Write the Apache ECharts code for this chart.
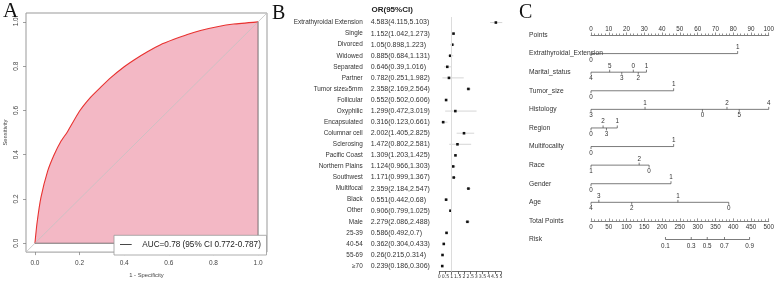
<!DOCTYPE html>
<html><head><meta charset="utf-8">
<script src="https://cdn.jsdelivr.net/npm/echarts@6/dist/echarts.min.js"></script>
<style>html,body{margin:0;padding:0;background:#fff}#c{width:777px;height:283px}</style>
</head><body><div id="c"></div>
<script>
// ---------- Panel A: ROC ----------
const rocFpr = [0, 0.009, 0.027, 0.057, 0.086, 0.116, 0.146, 0.198, 0.25, 0.295, 0.34, 0.40, 0.444, 0.504, 0.563, 0.623, 0.683, 0.742, 0.817, 0.891, 1];
const rocTpr = [0, 0.088, 0.207, 0.326, 0.40, 0.46, 0.504, 0.594, 0.66, 0.705, 0.748, 0.797, 0.828, 0.865, 0.897, 0.921, 0.943, 0.961, 0.978, 0.99, 1];
const rocTicks = [0, 0.2, 0.4, 0.6, 0.8, 1.0];
const aucText = 'AUC=0.78 (95% CI 0.772-0.787)';

// ---------- Panel B: forest ----------
const orLabels = ['Extrathyroidal Extension','Single','Divorced','Widowed','Separated','Partner','Tumor size≥5mm','Follicular','Oxyphilic','Encapsulated','Columnar cell','Sclerosing','Pacific Coast','Northern Plains','Southwest','Multifocal','Black','Other','Male','25-39','40-54','55-69','≥70'];
const orValues = [4.583,1.152,1.05,0.885,0.646,0.782,2.358,0.552,1.299,0.316,2.002,1.472,1.309,1.124,1.171,2.359,0.551,0.906,2.279,0.586,0.362,0.26,0.239];
const orLower  = [4.115,1.042,0.898,0.684,0.39,0.251,2.169,0.502,0.472,0.123,1.405,0.802,1.203,0.966,0.999,2.184,0.442,0.799,2.086,0.492,0.304,0.215,0.186];
const orUpper  = [5.103,1.273,1.223,1.131,1.016,1.982,2.564,0.606,3.019,0.661,2.825,2.581,1.425,1.303,1.367,2.547,0.68,1.025,2.488,0.7,0.433,0.314,0.306];
const orTicks = [0,0.5,1,1.5,2,2.5,3,3.5,4,4.5,5];

// ---------- Panel C: nomogram ----------
const nomoVars = ['Points','Extrathyroidal_Extension','Marital_status','Tumor_size','Histology','Region','Multifocality','Race','Gender','Age','Total Points','Risk'];
const extPts = [0, 82.5],                         extLab = ['0','1'];
const maritalPts = [0, 10.5, 17.3, 23.8, 26.6, 31.2], maritalLab = ['4','5','3','0','2','1'];
const tumorPts = [0, 46.5],                       tumorLab = ['0','1'];
const histPts = [0, 30.4, 62.7, 76.5, 83.4, 100], histLab = ['3','1','0','2','5','4'];
const regionPts = [0, 6.8, 8.7, 14.8],            regionLab = ['0','2','3','1'];
const multiPts = [0, 46.5],                       multiLab = ['0','1'];
const racePts = [0, 27.1, 32.7],                  raceLab = ['1','2','0'];
const genderPts = [0, 45],                        genderLab = ['0','1'];
const agePts = [0, 4.4, 22.9, 48.9, 77.5],        ageLab = ['4','3','2','1','0'];
const riskTotal = [209.5, 282, 327, 375.5, 446],  riskLab = ['0.1','0.3','0.5','0.7','0.9'];
const pointsMax = 100, totalMax = 500;

// ---------- build ----------
const FONT = '"Liberation Sans", Arial, sans-serif';
const NARROW = '"Liberation Sans Narrow", "DejaVu Sans Condensed", sans-serif';
const SERIF = '"Liberation Serif", "DejaVu Serif", serif';
const TXT = '#333';

const rocData = rocFpr.map((x, i) => [x, rocTpr[i]]);
const orText = orValues.map((v, i) => `${v}(${orLower[i]},${orUpper[i]})`);

const nomoRows = [
  [1, extPts, extLab], [2, maritalPts, maritalLab], [3, tumorPts, tumorLab],
  [4, histPts, histLab], [5, regionPts, regionLab], [6, multiPts, multiLab],
  [7, racePts, raceLab], [8, genderPts, genderLab], [9, agePts, ageLab]
];
const nomoTicks = [];
nomoRows.forEach(([row, pts, lab]) => pts.forEach((p, k) => nomoTicks.push({x: p, row, lab: lab[k], tickDir: k % 2 === 0 ? -1 : 1, labDir: k % 2 === 0 ? -1 : 1})));
const nomoLines = nomoRows.map(([row, pts]) => [Math.min(...pts), Math.max(...pts), row]);
const riskTicks = riskTotal.map((t, k) => ({x: t, row: 11, lab: riskLab[k], tickDir: 1, labDir: -1}));

function txtStyle(text, size, align, va, family, weight) {
  return {text, fontSize: size, fontFamily: family || FONT, fill: TXT, fontWeight: weight || 'normal',
    align, textAlign: align, verticalAlign: va, textVerticalAlign: va};
}

function tickRender(items) {
  return function (params, api) {
    const it = items[params.dataIndex];
    const p = api.coord([it.x, it.row]);
    return {type: 'group', children: [
      {type: 'line', shape: {x1: p[0], y1: p[1], x2: p[0], y2: p[1] - it.tickDir * 2.5}, style: {stroke: '#444', lineWidth: 0.7}},
      {type: 'text', x: p[0], y: p[1] - it.labDir * 6.3, style: txtStyle(it.lab, 6.3, 'center', 'middle')}
    ]};
  };
}
function segRender(params, api) {
  const a = api.coord([api.value(0), api.value(2)]);
  const b = api.coord([api.value(1), api.value(2)]);
  return {type: 'line', shape: {x1: a[0], y1: a[1], x2: b[0], y2: b[1]}, style: {stroke: '#444', lineWidth: 0.7}};
}

const option = {
  animation: false,
  backgroundColor: '#fff',
  grid: [
    {left: 26, top: 13, width: 241, height: 242, show: true, borderColor: '#999', borderWidth: 1, backgroundColor: 'transparent'},
    {left: 439.3, top: 17, width: 61.7, height: 254.6},
    {left: 591, top: 35, width: 180.7, height: 204.5}
  ],
  xAxis: [
    {gridIndex: 0, type: 'value', min: -0.04, max: 1.04, splitLine: {show: false},
      axisLine: {show: false, onZero: false},
      axisTick: {show: true, length: 3, lineStyle: {color: '#777', width: 0.7}, customValues: rocTicks},
      axisLabel: {customValues: rocTicks, formatter: v => v.toFixed(1), fontSize: 6.5, color: '#444', fontFamily: FONT, margin: 8},
      name: '1 - Specificity', nameLocation: 'middle', nameGap: 19.5, nameTextStyle: {fontSize: 5.8, color: '#444', fontFamily: FONT}},
    {gridIndex: 1, type: 'value', min: 0, max: 5, interval: 0.5, splitLine: {show: false},
      axisLine: {show: true, onZero: false, lineStyle: {color: '#333', width: 0.7}},
      axisTick: {show: true, length: 2.5, lineStyle: {color: '#333', width: 0.7}},
      axisLabel: {fontSize: 5.2, color: TXT, fontFamily: NARROW, margin: 3, interval: 0, hideOverlap: false,
        customValues: orTicks, formatter: v => String(v)}},
    {gridIndex: 2, type: 'value', position: 'top', min: 0, max: pointsMax, interval: 10, splitLine: {show: false},
      axisLine: {show: true, onZero: false, lineStyle: {color: '#444', width: 0.7}},
      axisTick: {show: true, length: 2.5, lineStyle: {color: '#444', width: 0.6}},
      minorTick: {show: true, splitNumber: 5, length: 1.5, lineStyle: {color: '#444', width: 0.6}},
      axisLabel: {fontSize: 6.3, color: TXT, fontFamily: FONT, margin: 3}},
    {gridIndex: 2, type: 'value', position: 'bottom', offset: -18.6, min: 0, max: totalMax, interval: 50, splitLine: {show: false},
      axisLine: {show: true, onZero: false, lineStyle: {color: '#444', width: 0.7}},
      axisTick: {show: true, inside: true, length: 2.5, lineStyle: {color: '#444', width: 0.6}},
      minorTick: {show: true, splitNumber: 5, length: 1.5, lineStyle: {color: '#444', width: 0.6}},
      axisLabel: {fontSize: 6.3, color: TXT, fontFamily: FONT, margin: 3.5}}
  ],
  yAxis: [
    {gridIndex: 0, type: 'value', min: -0.04, max: 1.04, splitLine: {show: false},
      axisLine: {show: false, onZero: false},
      axisTick: {show: true, length: 3, lineStyle: {color: '#777', width: 0.7}, customValues: rocTicks},
      axisLabel: {customValues: rocTicks, formatter: v => v.toFixed(1), rotate: 90, fontSize: 6.5, color: '#444', fontFamily: FONT, margin: 6},
      name: 'Sensitivity', nameLocation: 'middle', nameGap: 18, nameTextStyle: {fontSize: 5.8, color: '#444', fontFamily: FONT}},
    {gridIndex: 1, type: 'category', inverse: true, data: orLabels,
      axisLine: {show: false, onZero: false}, axisTick: {show: false}, splitLine: {show: false},
      axisLabel: {interval: 0, fontSize: 6.4, color: TXT, fontFamily: FONT, margin: 76.6}},
    {gridIndex: 2, type: 'value', inverse: true, min: 0, max: 11, interval: 1,
      axisLine: {show: false, onZero: false}, axisTick: {show: false}, splitLine: {show: false},
      axisLabel: {formatter: v => nomoVars[v] || '', align: 'left', margin: 62, fontSize: 6.7, color: TXT, fontFamily: FONT}}
  ],
  series: [
    {type: 'line', xAxisIndex: 0, yAxisIndex: 0, data: rocData, showSymbol: false, smooth: 0.15, z: 2,
      lineStyle: {color: '#e8312f', width: 1.1}, areaStyle: {color: '#f3b8c5', opacity: 1}},
    {type: 'custom', xAxisIndex: 0, yAxisIndex: 0, clip: false, z: 10,
      data: [[0, 1]], encode: {x: 0, y: 1},
      renderItem: function (params, api) {
        const o = api.coord([0, 0]), r = api.coord([1, 0]), t = api.coord([1, 1]);
        const d0 = api.coord([-0.04, -0.04]), d1 = api.coord([1.04, 1.04]);
        return {type: 'group', children: [
          {type: 'line', shape: {x1: d0[0], y1: d0[1], x2: d1[0], y2: d1[1]}, style: {stroke: '#c3c3c3', lineWidth: 0.8}},
          {type: 'polyline', shape: {points: [o, r, t]}, style: {stroke: '#555', lineWidth: 0.8, fill: null}}
        ]};
      }},
    {type: 'line', xAxisIndex: 1, yAxisIndex: 1, data: [], z: 1,
      markLine: {silent: true, symbol: 'none', label: {show: false}, data: [{xAxis: 1}],
        lineStyle: {color: '#dcdcdc', type: 'solid', width: 1}}},
    {type: 'custom', xAxisIndex: 1, yAxisIndex: 1, clip: false, z: 3,
      data: orValues.map((v, i) => [v, i]), encode: {x: 0, y: 1},
      renderItem: function (params, api) {
        const i = params.dataIndex;
        const c = api.coord([orValues[i], i]);
        const lo = api.coord([orLower[i], i]);
        const hi = api.coord([orUpper[i], i]);
        const zero = api.coord([0, i]);
        return {type: 'group', children: [
          {type: 'line', shape: {x1: lo[0], y1: lo[1], x2: hi[0], y2: hi[1]}, style: {stroke: '#c4c4c4', lineWidth: 0.7}},
          {type: 'rect', shape: {x: c[0] - 1.3, y: c[1] - 1.3, width: 2.6, height: 2.6}, style: {fill: '#111'}},
          {type: 'text', x: zero[0] - 68.6, y: c[1], style: txtStyle(orText[i], 7, 'left', 'middle')}
        ]};
      }},
    {type: 'custom', xAxisIndex: 2, yAxisIndex: 2, clip: false,
      data: nomoLines, encode: {x: [0, 1], y: 2}, renderItem: segRender},
    {type: 'custom', xAxisIndex: 2, yAxisIndex: 2, clip: false,
      data: nomoTicks.map(t => [t.x, t.row]), encode: {x: 0, y: 1}, renderItem: tickRender(nomoTicks)},
    {type: 'custom', xAxisIndex: 3, yAxisIndex: 2, clip: false,
      data: [[Math.min(...riskTotal), Math.max(...riskTotal), 11]], encode: {x: [0, 1], y: 2}, renderItem: segRender},
    {type: 'custom', xAxisIndex: 3, yAxisIndex: 2, clip: false,
      data: riskTicks.map(t => [t.x, t.row]), encode: {x: 0, y: 1}, renderItem: tickRender(riskTicks)}
  ],
  graphic: [
    {type: 'text', left: 3, top: 1, z: 100, style: {text: 'A', fontSize: 21, fontFamily: SERIF, fill: '#111'}},
    {type: 'text', left: 272, top: 4, z: 100, style: {text: 'B', fontSize: 20, fontFamily: SERIF, fill: '#111'}},
    {type: 'text', left: 519, top: 3, z: 100, style: {text: 'C', fontSize: 20, fontFamily: SERIF, fill: '#111'}},
    {type: 'text', left: 371.5, top: 6, z: 100, style: {text: 'OR(95%CI)', fontSize: 8, fontWeight: 'bold', fontFamily: FONT, fill: '#222'}},
    {type: 'rect', z: 100, shape: {x: 114, y: 235.3, width: 152.5, height: 19.7}, style: {fill: '#fff', stroke: '#999', lineWidth: 0.8}},
    {type: 'line', z: 101, shape: {x1: 120, y1: 244.5, x2: 131.7, y2: 244.5}, style: {stroke: '#333', lineWidth: 0.9}},
    {type: 'text', z: 101, x: 142.3, y: 244.8, style: {text: aucText, fontSize: 8.2, fontFamily: FONT, fill: '#222', textVerticalAlign: 'middle', verticalAlign: 'middle'}}
  ]
};

const chart = echarts.init(document.getElementById('c'));
chart.setOption(option);
</script>
</body></html>
